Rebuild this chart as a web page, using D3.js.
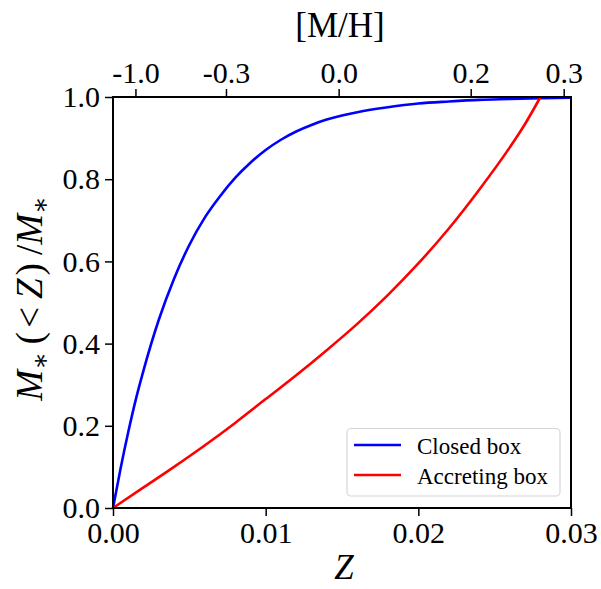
<!DOCTYPE html>
<html>
<head>
<meta charset="utf-8">
<script src="https://cdn.jsdelivr.net/npm/d3@7"></script>
<style>
  html, body { margin: 0; padding: 0; background: #fff; }
  svg { display: block; }
  text { font-family: "Liberation Serif", "DejaVu Serif", serif; fill: #000; }
</style>
</head>
<body>
<div id="chart"></div>
<script>
// ---- data ----
const closedZ   = [0, 0.0005, 0.001, 0.0015, 0.002, 0.003, 0.004, 0.005, 0.006, 0.007, 0.008, 0.009, 0.010, 0.011, 0.012, 0.013, 0.014, 0.015, 0.016, 0.018, 0.020, 0.022, 0.024, 0.026, 0.028, 0.030];
const closedFrac = [0, 0.097, 0.185, 0.265, 0.335, 0.458, 0.558, 0.640, 0.706, 0.758, 0.803, 0.840, 0.871, 0.896, 0.916, 0.932, 0.945, 0.955, 0.963, 0.975, 0.984, 0.989, 0.993, 0.995, 0.997, 0.998];
const accretingZ    = [0, 0.002, 0.004, 0.006, 0.008, 0.010, 0.012, 0.014, 0.016, 0.018, 0.020, 0.022, 0.024, 0.026, 0.027, 0.028];
const accretingFrac = [0, 0.050, 0.100, 0.152, 0.207, 0.265, 0.323, 0.384, 0.448, 0.518, 0.595, 0.680, 0.775, 0.878, 0.935, 1.0];
const xTicks = [0.00, 0.01, 0.02, 0.03];
const yTicks = [0.0, 0.2, 0.4, 0.6, 0.8, 1.0];
const topTickLabels = ["-1.0", "-0.3", "0.0", "0.2", "0.3"];
const topTickZ = [0.00147, 0.0074, 0.01478, 0.02343, 0.02952];
const seriesNames = ["Closed box", "Accreting box"];
const seriesColors = ["#0000ff", "#ff0000"];

// ---- layout ----
const W = 601, H = 589;
const L = 113, R = 571, T = 97, B = 508;

const svg = d3.select("#chart").append("svg").attr("width", W).attr("height", H);

const x = d3.scaleLinear().domain([0, 0.03]).range([L, R]);
const y = d3.scaleLinear().domain([0, 1]).range([B, T]);

const line = d3.line().x(d => x(d[0])).y(d => y(d[1])).curve(d3.curveMonotoneX);

const series = [
  d3.zip(closedZ, closedFrac),
  d3.zip(accretingZ, accretingFrac)
];

svg.append("g").selectAll("path").data(series).join("path")
  .attr("d", line)
  .attr("fill", "none")
  .attr("stroke", (d, i) => seriesColors[i])
  .attr("stroke-width", 2.6)
  .attr("stroke-linejoin", "round");

// ---- axes ----
function styleAxis(g) {
  g.select(".domain").remove();
  g.selectAll(".tick line").attr("stroke", "#000").attr("stroke-width", 1.5);
  g.selectAll(".tick text").style("font-family", "'Liberation Serif', serif").style("font-size", "30px").attr("fill", "#000");
}

svg.append("g").attr("transform", `translate(0,${B})`)
  .call(d3.axisBottom(x).tickValues(xTicks).tickFormat(d3.format(".2f")).tickSize(8).tickPadding(6))
  .call(styleAxis);

svg.append("g").attr("transform", `translate(${L},0)`)
  .call(d3.axisLeft(y).tickValues(yTicks).tickFormat(d3.format(".1f")).tickSize(8).tickPadding(5))
  .call(styleAxis);

svg.append("g").attr("transform", `translate(0,${T})`)
  .call(d3.axisTop(x).tickValues(topTickZ).tickFormat((d, i) => topTickLabels[i]).tickSize(8).tickPadding(6))
  .call(styleAxis);

// frame
svg.append("rect")
  .attr("x", L).attr("y", T).attr("width", R - L).attr("height", B - T)
  .attr("fill", "none").attr("stroke", "#000").attr("stroke-width", 2);

// ---- labels ----
svg.append("text")
  .attr("x", (L + R) / 2 - 2).attr("y", 37)
  .attr("text-anchor", "middle")
  .style("font-size", "35px")
  .text("[M/H]");

svg.append("text")
  .attr("x", (L + R) / 2 + 2).attr("y", 579)
  .attr("text-anchor", "middle")
  .style("font-size", "35px").style("font-style", "italic")
  .text("Z");

const yl = svg.append("text")
  .attr("transform", `translate(42,${(T + B) / 2 - 4}) rotate(-90)`)
  .attr("text-anchor", "middle")
  .style("font-size", "37px");
yl.append("tspan").style("font-style", "italic").text("M");
yl.append("tspan").attr("dy", "0.25em").style("font-size", "26px").text("∗");
yl.append("tspan").attr("dy", "-0.17em").attr("dx", 8).text("(");
yl.append("tspan").attr("dx", 4).text("<");
yl.append("tspan").attr("dx", 8).style("font-style", "italic").text("Z");
yl.append("tspan").attr("dx", 3).text(")");
yl.append("tspan").attr("dx", 8).text("/");
yl.append("tspan").style("font-style", "italic").text("M");
yl.append("tspan").attr("dy", "0.25em").style("font-size", "26px").text("∗");

// ---- legend ----
const lg = svg.append("g");
lg.append("rect")
  .attr("x", 347).attr("y", 428.5).attr("width", 213).attr("height", 67.5)
  .attr("rx", 4).attr("ry", 4)
  .attr("fill", "#fff").attr("fill-opacity", 0.8)
  .attr("stroke", "#d6d6d6").attr("stroke-width", 1.2);
seriesNames.forEach((name, i) => {
  const yy = 445 + i * 30;
  lg.append("line").attr("x1", 354).attr("x2", 401).attr("y1", yy).attr("y2", yy)
    .attr("stroke", seriesColors[i]).attr("stroke-width", 2.6);
  lg.append("text").attr("x", 417).attr("y", yy + 9)
    .style("font-size", "23px").text(name);
});
</script>
</body>
</html>
